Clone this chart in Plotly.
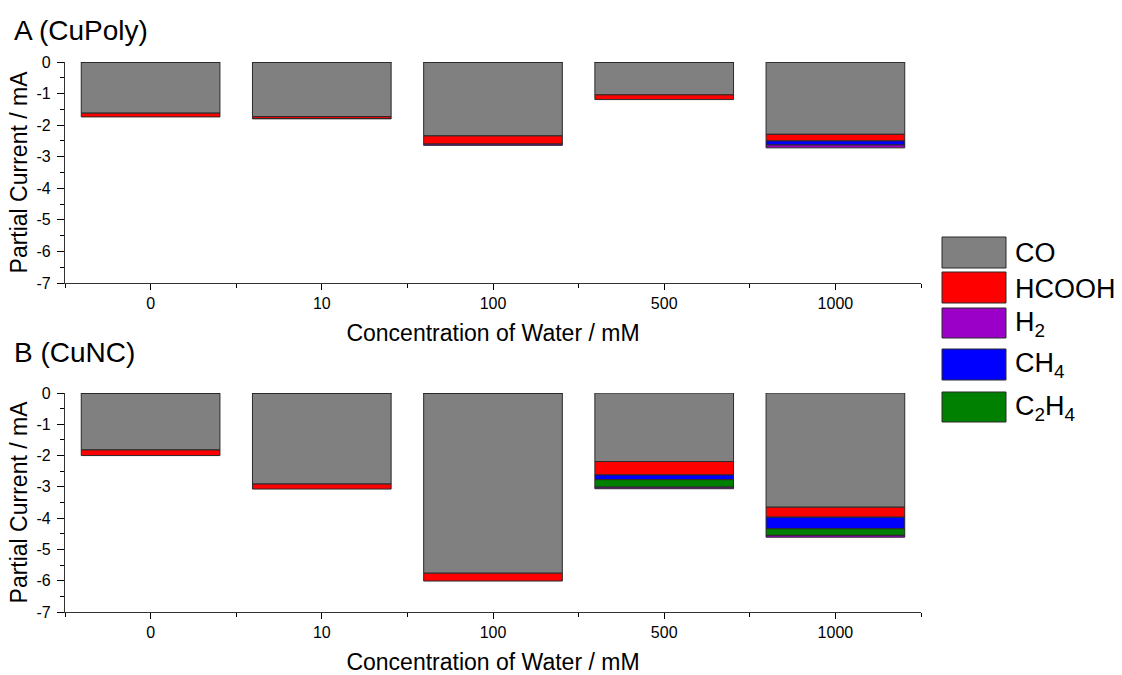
import plotly.graph_objects as go
from plotly.subplots import make_subplots

# ---------------- data ----------------
categories = ["0", "10", "100", "500", "1000"]

series_names = ["CO", "HCOOH", "H<sub>2</sub>", "CH<sub>4</sub>", "C<sub>2</sub>H<sub>4</sub>"]
series_colors = ["#808080", "#ff0000", "#9b00c8", "#0000ff", "#008000"]

# Panel A (CuPoly) partial currents / mA
cupoly_CO = [-1.62, -1.73, -2.34, -1.04, -2.29]
cupoly_HCOOH = [-0.12, -0.06, -0.26, -0.15, -0.21]
cupoly_H2 = [0.0, -0.01, -0.04, 0.0, -0.09]
cupoly_CH4 = [0.0, 0.0, 0.0, 0.0, -0.13]
cupoly_C2H4 = [0.0, 0.0, 0.0, 0.0, 0.0]

# Panel B (CuNC) partial currents / mA
cunc_CO = [-1.82, -2.91, -5.76, -2.19, -3.65]
cunc_HCOOH = [-0.18, -0.16, -0.25, -0.43, -0.32]
cunc_H2 = [0.0, 0.0, 0.0, -0.05, -0.06]
cunc_CH4 = [0.0, 0.0, 0.0, -0.15, -0.37]
cunc_C2H4 = [0.0, 0.0, 0.0, -0.24, -0.21]

y_ticks = [0, -1, -2, -3, -4, -5, -6, -7]

# ---------------- figure ----------------
FONT = "Arial, Liberation Sans, sans-serif"
W, H = 1122, 675
ML = 65
MT = 62
MR = W - 921
MB = H - 612
PW, PH = W - ML - MR, H - MT - MB

def py(p):  # window pixel y -> paper y
    return (H - MB - p) / PH

def px(p):  # window pixel x -> paper x
    return (p - ML) / PW

fig = make_subplots(rows=2, cols=1)
fig.update_layout(
    yaxis=dict(domain=[py(283), 1.0]),
    yaxis2=dict(domain=[0.0, py(393)]),
)

x_idx = list(range(len(categories)))
# stacking order follows the picture: CO, HCOOH, CH4, C2H4, H2 (H2 at the bottom)
stack_order = [0, 1, 3, 4, 2]
panels = [
    (1, [cupoly_CO, cupoly_HCOOH, cupoly_H2, cupoly_CH4, cupoly_C2H4]),
    (2, [cunc_CO, cunc_HCOOH, cunc_H2, cunc_CH4, cunc_C2H4]),
]
for row, vals in panels:
    for k in stack_order:
        fig.add_trace(
            go.Bar(
                x=x_idx,
                y=vals[k],
                name=series_names[k],
                marker=dict(color=series_colors[k], line=dict(color="#2a2a2a", width=1)),
                width=0.81,
                showlegend=False,
            ),
            row=row, col=1,
        )

fig.update_layout(barmode="relative")

axis_font = dict(family=FONT, size=23, color="black")
tick_font = dict(family=FONT, size=16, color="black")

for r in (1, 2):
    fig.update_xaxes(
        row=r, col=1,
        range=[-0.5, len(categories) - 0.5],
        tickmode="array", tickvals=x_idx, ticktext=categories,
        ticks="outside", ticklen=6, tickcolor="black", tickwidth=1,
        minor=dict(tickmode="linear", tick0=0.5, dtick=1, ticks="outside",
                   ticklen=4, tickcolor="black", tickwidth=1),
        showline=True, linecolor="#333333", linewidth=1.2,
        showgrid=False, zeroline=False,
        tickfont=tick_font,
        title=dict(text="Concentration of Water / mM", font=axis_font, standoff=13),
    )
    fig.update_yaxes(
        row=r, col=1,
        range=[-7, 0],
        tickmode="array", tickvals=y_ticks, ticktext=[str(v) for v in y_ticks],
        ticks="outside", ticklen=7, tickcolor="black", tickwidth=1,
        ticklabelstandoff=3,
        minor=dict(tickmode="linear", tick0=0, dtick=0.5, ticks="outside",
                   ticklen=4, tickcolor="black", tickwidth=1),
        showline=True, linecolor="#333333", linewidth=1.2,
        showgrid=False, zeroline=False,
        tickfont=tick_font,
        title=dict(text="Partial Current / mA", font=axis_font, standoff=2),
    )

# panel titles
fig.add_annotation(text="A (CuPoly)", xref="paper", yref="paper", x=px(12), y=py(30),
                   xanchor="left", yanchor="middle", showarrow=False,
                   font=dict(family=FONT, size=28, color="black"))
fig.add_annotation(text="B (CuNC)", xref="paper", yref="paper", x=px(12), y=py(352),
                   xanchor="left", yanchor="middle", showarrow=False,
                   font=dict(family=FONT, size=28, color="black"))

# custom legend with large swatches
legend_rows = [(237, 268), (272, 303), (308, 338), (349, 380), (392, 422)]
for (top, bot), name, color in zip(legend_rows, series_names, series_colors):
    fig.add_shape(type="rect", xref="paper", yref="paper",
                  x0=px(942), x1=px(1006), y0=py(bot), y1=py(top),
                  fillcolor=color, line=dict(color="#2a2a2a", width=1))
    fig.add_annotation(text=name, xref="paper", yref="paper",
                       x=px(1013), y=py((top + bot) / 2 + 1),
                       xanchor="left", yanchor="middle", showarrow=False,
                       font=dict(family=FONT, size=27, color="black"))

fig.update_layout(
    width=W, height=H,
    margin=dict(l=ML, r=MR, t=MT, b=MB, autoexpand=False),
    plot_bgcolor="white", paper_bgcolor="white",
    font=dict(family=FONT, size=16, color="black"),
    showlegend=False,
)

fig.write_html(
    "out.html",
    config={"displayModeBar": False},
    post_script="document.body.style.margin='0';document.body.style.overflow='hidden';",
)
